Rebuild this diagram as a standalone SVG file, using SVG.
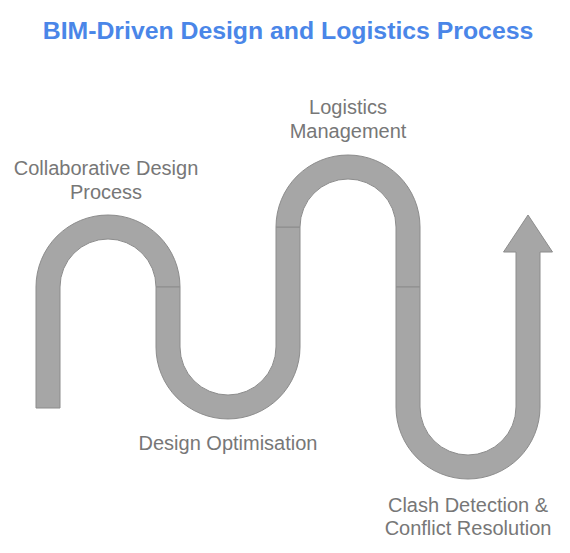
<svg xmlns="http://www.w3.org/2000/svg" width="570" height="553" viewBox="0 0 570 553">
<style>
.seg{fill:#a6a6a6;stroke:#8c8c8c;stroke-width:1;stroke-linejoin:round}
.title{font-family:"Liberation Sans",Arial,sans-serif;font-weight:bold;font-size:24.8px;fill:#4a86e8;text-anchor:middle}
.lbl{font-family:"Liberation Sans",Arial,sans-serif;font-size:20px;fill:#777777;text-anchor:middle}
</style>
<rect width="570" height="553" fill="#ffffff"/>
<text class="title" x="288" y="39">BIM-Driven Design and Logistics Process</text>
<g id="connectors">
<g id="seg1"><path class="seg" d="M36,408 L36,287 A72,72 0 0 1 180,287 L156,287 A48,48 0 0 0 60,287 L60,408 Z"/></g>
<g id="seg2"><path class="seg" d="M156,287 L180,287 L180,347 A48,48 0 0 0 276,347 L276,227 L300,227 L300,347 A72,72 0 0 1 156,347 Z"/></g>
<g id="seg3"><path class="seg" d="M276,227 A72,72 0 0 1 420,227 L420,287 L396,287 L396,227 A48,48 0 0 0 300,227 Z"/></g>
<g id="seg4"><path class="seg" d="M396,287 L420,287 L420,407 A48,48 0 0 0 516,407 L516,252 L503.5,252 L528,215 L552.5,252 L540,252 L540,407 A72,72 0 0 1 396,407 Z"/></g>
</g>
<g id="n1"><text class="lbl" x="106" y="175">Collaborative Design</text><text class="lbl" x="106" y="199">Process</text></g>
<g id="n2"><text class="lbl" x="228" y="450">Design Optimisation</text></g>
<g id="n3"><text class="lbl" x="348" y="114">Logistics</text><text class="lbl" x="348" y="138">Management</text></g>
<g id="n4"><text class="lbl" x="468" y="512">Clash Detection &amp;</text><text class="lbl" x="468" y="535">Conflict Resolution</text></g>
</svg>
